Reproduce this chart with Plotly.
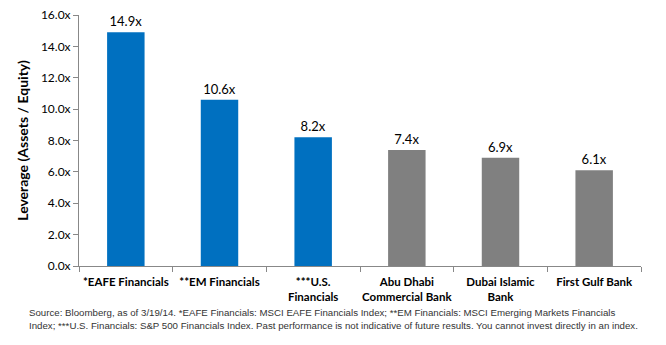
import plotly.graph_objects as go

categories = ["*EAFE Financials", "**EM Financials", "***U.S.<br>Financials",
              "Abu Dhabi<br>Commercial Bank", "Dubai Islamic<br>Bank", "First Gulf Bank"]
values = [14.9, 10.6, 8.2, 7.4, 6.9, 6.1]
colors = ["#0070C0", "#0070C0", "#0070C0", "#808080", "#808080", "#808080"]
tick_vals = [0, 2, 4, 6, 8, 10, 12, 14, 16]
tick_text = [f"{v:.1f}x" for v in tick_vals]

fig = go.Figure(go.Bar(
    x=categories, y=values, marker=dict(color=colors, line=dict(width=0)),
    text=[f"{v:.1f}x" for v in values], textposition="outside",
    textfont=dict(family="Lato", size=13, color="#000000"), cliponaxis=False,
))

fig.update_layout(
    width=666, height=345, margin=dict(l=79, r=25, t=15, b=79),
    plot_bgcolor="white", paper_bgcolor="white", bargap=0.6,
    showlegend=False,
    font=dict(family="Lato", size=12, color="#000000"),
)
fig.update_xaxes(
    showline=True, linecolor="#888888", linewidth=1, tickangle=0, automargin=False,
    ticks="outside", tickson="boundaries", ticklen=5, tickcolor="#888888",
    ticklabelstandoff=5,
    tickfont=dict(family="Lato", size=11.5, color="#000000", weight="bold"),
)
fig.update_yaxes(
    range=[0, 16], tickvals=tick_vals, ticktext=tick_text, automargin=False,
    showline=True, linecolor="#888888", linewidth=1,
    ticks="outside", ticklen=5, tickcolor="#888888", showgrid=False, zeroline=False,
    tickfont=dict(family="Lato", size=12, color="#000000"),
    title=dict(text="Leverage (Assets / Equity)", font=dict(family="Lato", size=14, weight="bold"), standoff=8),
)
fig.add_annotation(
    xref="paper", yref="paper", x=-0.093, y=-0.155, xanchor="left", yanchor="top",
    align="left", showarrow=False,
    text=("Source: Bloomberg, as of 3/19/14. *EAFE Financials: MSCI EAFE Financials Index; **EM Financials: MSCI Emerging Markets Financials<br>"
          "Index; ***U.S. Financials: S&P 500 Financials Index. Past performance is not indicative of future results. You cannot invest directly in an index."),
    font=dict(family="Liberation Sans", size=9.7, color="#333333"),
)
fig.write_html("out.html")
